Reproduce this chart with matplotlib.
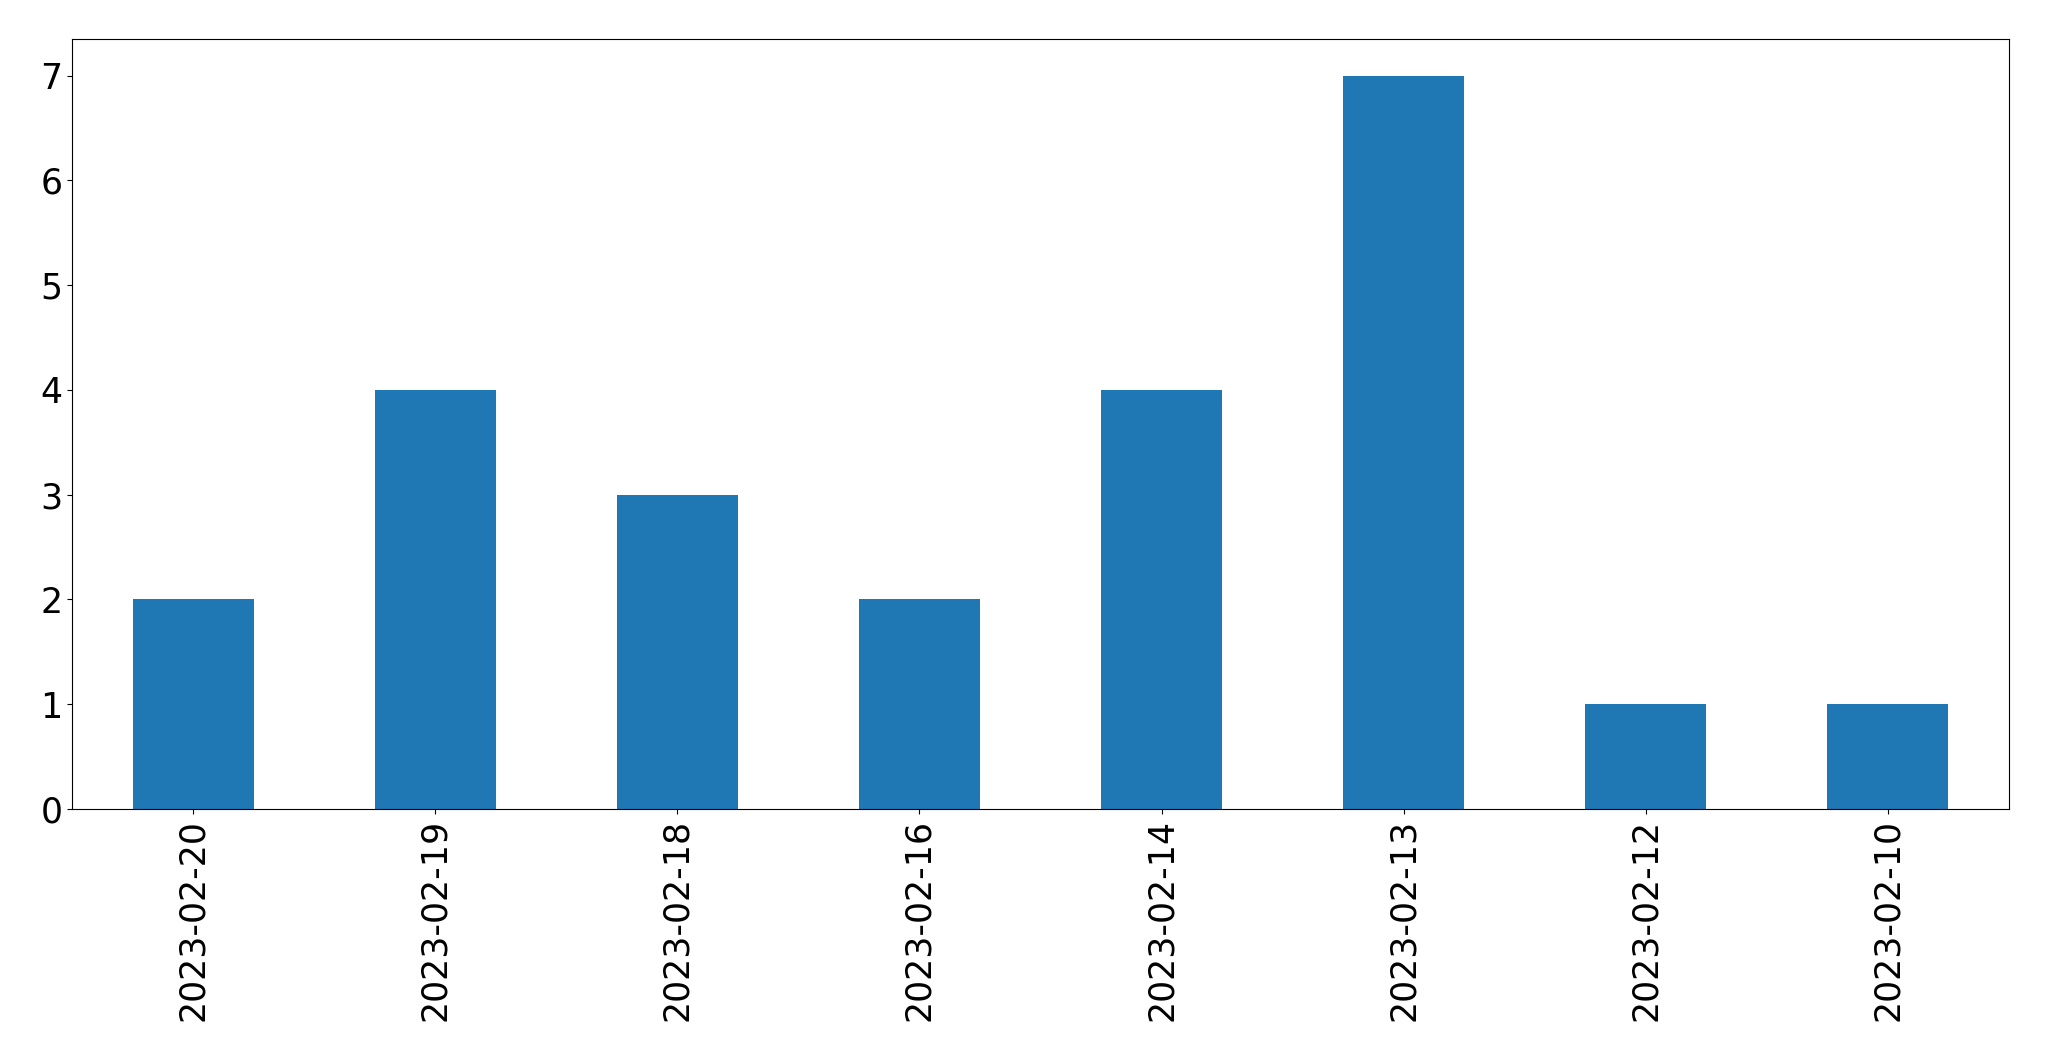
import matplotlib
matplotlib.use("Agg")
import matplotlib.pyplot as plt
import pandas as pd

dates = ["2023-02-20", "2023-02-19", "2023-02-18", "2023-02-16",
         "2023-02-14", "2023-02-13", "2023-02-12", "2023-02-10"]
counts = [2, 4, 3, 2, 4, 7, 1, 1]

W, H = 2049, 1061
fig = plt.figure(figsize=(W / 100, H / 100), dpi=100)
ax = fig.add_axes([72 / W, 1 - 809 / H, (2009 - 72) / W, (809 - 39) / H])

s = pd.Series(counts, index=dates)
s.plot.bar(ax=ax, color="#1f77b4", fontsize=25)
ax.tick_params(axis="x", labelrotation=90)

fig.savefig("out.png", dpi=100)
